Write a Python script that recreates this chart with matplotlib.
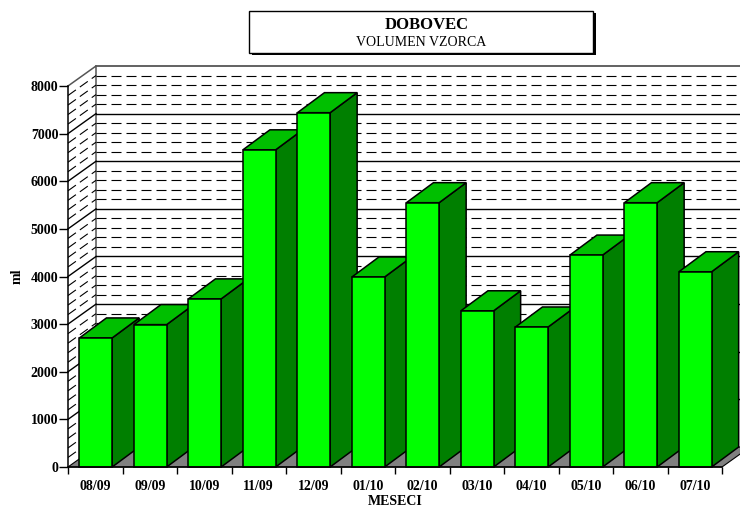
import matplotlib
matplotlib.use('Agg')
import matplotlib.pyplot as plt
from matplotlib.patches import Polygon, Rectangle

plt.rcParams['font.family'] = ['Liberation Serif', 'DejaVu Serif']
plt.rcParams['lines.scale_dashes'] = False

# Data
months = ['08/09', '09/09', '10/09', '11/09', '12/09', '01/10',
          '02/10', '03/10', '04/10', '05/10', '06/10', '07/10']
volume = [2710, 2990, 3530, 6660, 7440, 3990, 5550, 3280, 2940, 4450, 5550, 4100]
major_ticks = [0, 1000, 2000, 3000, 4000, 5000, 6000, 7000, 8000]
minor_ticks = [v for v in range(200, 8000, 200) if v % 1000 != 0]

W, H = 740, 508
fig = plt.figure(figsize=(W / 100, H / 100), dpi=100)
ax = fig.add_axes([68 / W, (H - 467) / H, 654 / W, 381 / H])
n = len(months)
ax.set_xlim(0, n)
ax.set_ylim(0, 8000)

# 3D depth offset in data units
dx = 28 / 54.5
dy = 420
bar_w = 0.6

# walls
ax.plot([0, dx, dx], [8000, 8000 + dy, dy], color='#555555', lw=1.1, clip_on=False, zorder=1)
ax.plot([dx, n + dx], [8000 + dy, 8000 + dy], color='#555555', lw=1.3, clip_on=False, zorder=1)
for v in minor_ticks:
    ax.plot([dx, n + dx], [v + dy, v + dy], color='black', lw=0.8,
            dashes=(10 * 0.72, 5 * 0.72), clip_on=False, zorder=1)
    ax.plot([0, dx], [v, v + dy], color='black', lw=0.8,
            dashes=(7, 3.5), clip_on=False, zorder=1)
for v in major_ticks[1:-1]:
    ax.plot([dx, n + dx], [v + dy, v + dy], color='black', lw=1, clip_on=False, zorder=1)
    ax.plot([0, dx], [v, v + dy], color='black', lw=1, clip_on=False, zorder=1)

# floor
ax.add_patch(Polygon([(0, 0), (n, 0), (n + dx, dy), (dx, dy)], closed=True, facecolor='#808080',
                     edgecolor='black', lw=0.8, clip_on=False, zorder=2))

# bars, left to right so each one overlaps the side of the previous
bar_dx = 27 / 54.5
for i, val in enumerate(volume):
    x0 = i + 0.51 - bar_w / 2
    x1 = x0 + bar_w
    ax.add_patch(Polygon([(x1, 0), (x1 + bar_dx, dy), (x1 + bar_dx, val + dy), (x1, val)], closed=True,
                         facecolor='#007f00', edgecolor='black', lw=1.1, clip_on=False, zorder=3))
    ax.add_patch(Polygon([(x0, val), (x1, val), (x1 + bar_dx, val + dy), (x0 + bar_dx, val + dy)], closed=True,
                         facecolor='#00bf00', edgecolor='black', lw=1.1, clip_on=False, zorder=3))
    ax.add_patch(Rectangle((x0, 0), bar_w, val, facecolor='#00ff00', edgecolor='black',
                           lw=1.1, clip_on=False, zorder=3))

# axes
for s in ['top', 'right']:
    ax.spines[s].set_visible(False)
for s in ['left', 'bottom']:
    ax.spines[s].set_linewidth(1.1)
    ax.spines[s].set_zorder(5)
ax.patch.set_visible(False)
ax.set_yticks(major_ticks)
ax.set_yticklabels([str(v) for v in major_ticks], fontsize=10, fontweight='bold')
ax.set_xticks(range(n + 1))
ax.set_xticklabels([''] * (n + 1))
ax.set_xticks([i + 0.5 for i in range(n)], minor=True)
ax.set_xticklabels(months, minor=True, fontsize=10, fontweight='bold')
ax.tick_params(axis='x', which='minor', length=0, pad=9)
ax.tick_params(axis='x', which='major', length=5, width=1)
ax.tick_params(axis='y', length=6.5, width=1, pad=0.5)
ax.set_xlabel('MESECI', fontsize=10, fontweight='bold', labelpad=2)
ax.set_ylabel('ml', fontsize=10, fontweight='bold', labelpad=5)

# title box with shadow
fig.add_artist(Rectangle((252 / W, (H - 55) / H), 344 / W, 42 / H, transform=fig.transFigure,
                         facecolor='black', edgecolor='black', lw=0))
fig.add_artist(Rectangle((249 / W, (H - 53) / H), 344 / W, 42 / H, transform=fig.transFigure,
                         facecolor='white', edgecolor='black', lw=1))
fig.text(427 / W, (H - 25) / H, 'DOBOVEC', ha='center', va='center', fontsize=12, fontweight='bold')
fig.text(421 / W, (H - 42) / H, 'VOLUMEN VZORCA', ha='center', va='center', fontsize=10)

fig.savefig('out.png', dpi=100)
